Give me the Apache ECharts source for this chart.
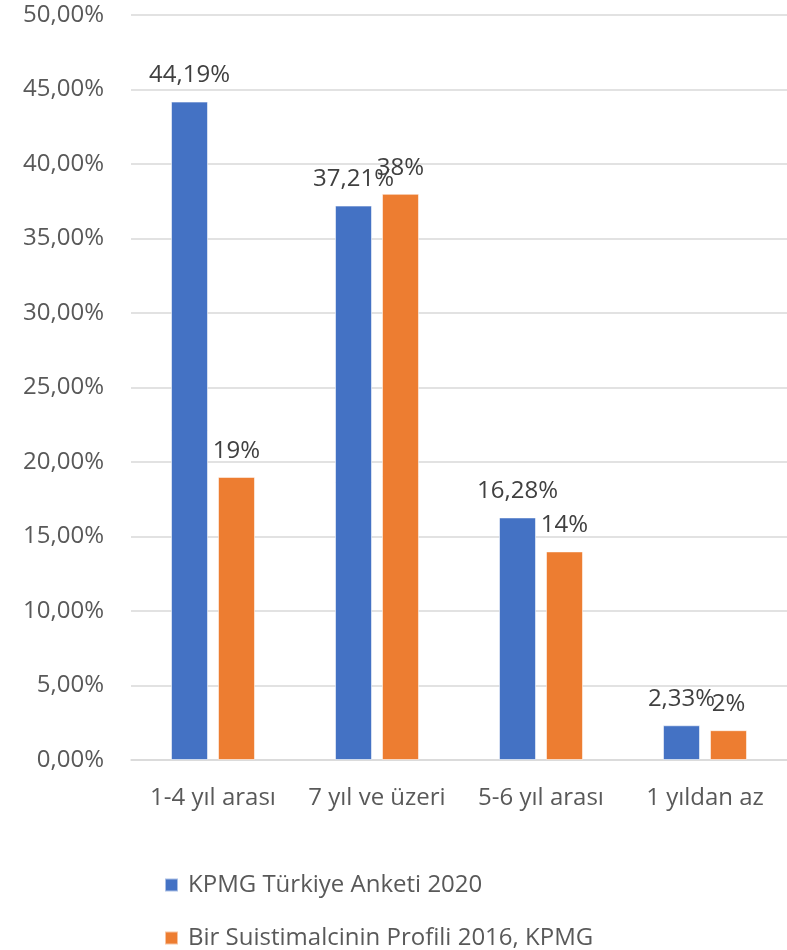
<!DOCTYPE html>
<html>
<head>
<meta charset="utf-8">
<script src="https://cdn.jsdelivr.net/npm/echarts@6/dist/echarts.min.js"></script>
<style>
  html, body { margin: 0; padding: 0; background: #ffffff; }
  #chart { width: 787px; height: 950px; }
</style>
</head>
<body>
<div id="chart"></div>
<script>
// Duration groups and the two survey series (percent values)
const categories = ['1-4 yıl arası', '7 yıl ve üzeri', '5-6 yıl arası', '1 yıldan az'];
const seriesNames = ['KPMG Türkiye Anketi 2020', 'Bir Suistimalcinin Profili 2016, KPMG'];
const survey2020 = [44.19, 37.21, 16.28, 2.33];
const profile2016 = [19, 38, 14, 2];

const FONT = 'Open Sans';
const TEXT = '#595959';
const SIZE = 24;

function pct2(v) { return v.toFixed(2).replace('.', ',') + '%'; }
function pct0(v) { return Math.round(v) + '%'; }

const chart = echarts.init(document.getElementById('chart'), null, { renderer: 'canvas' });

chart.setOption({
  animation: false,
  backgroundColor: '#ffffff',
  textStyle: { fontFamily: FONT },
  grid: { left: 131, top: 15, width: 660, height: 745, containLabel: false },
  xAxis: {
    type: 'category',
    data: categories,
    axisTick: { show: false },
    axisLine: { show: true, lineStyle: { color: '#d9d9d9', width: 1.5 } },
    axisLabel: { interval: 0, color: TEXT, fontFamily: FONT, fontSize: SIZE, margin: 26 }
  },
  yAxis: {
    type: 'value',
    min: 0,
    max: 50,
    interval: 5,
    axisLine: { show: false },
    axisTick: { show: false },
    splitLine: { lineStyle: { color: '#d9d9d9', width: 1.5 } },
    axisLabel: { color: TEXT, fontFamily: FONT, fontSize: SIZE, margin: 27, formatter: pct2 }
  },
  legend: {
    orient: 'vertical',
    left: 164,
    top: 870,
    height: 200,
    padding: 0,
    itemWidth: 13,
    itemHeight: 13,
    itemGap: 23,
    icon: 'rect',
    textStyle: { color: TEXT, fontFamily: FONT, fontSize: SIZE, lineHeight: 30, padding: [0, 0, 0, 5] },
    data: seriesNames
  },
  series: [
    {
      name: seriesNames[0],
      type: 'bar',
      data: survey2020,
      barWidth: 37,
      barGap: '27%',
      itemStyle: { color: '#4472C4', borderColor: 'rgba(255,255,255,0.55)', borderWidth: 1 },
      label: {
        show: true, position: 'top', distance: 14,
        color: '#404040', fontFamily: FONT, fontSize: SIZE,
        formatter: p => pct2(p.value)
      }
    },
    {
      name: seriesNames[1],
      type: 'bar',
      data: profile2016,
      barWidth: 37,
      itemStyle: { color: '#ED7D31', borderColor: 'rgba(255,255,255,0.55)', borderWidth: 1 },
      label: {
        show: true, position: 'top', distance: 14,
        color: '#404040', fontFamily: FONT, fontSize: SIZE,
        formatter: p => pct0(p.value)
      }
    }
  ]
});
</script>
</body>
</html>
